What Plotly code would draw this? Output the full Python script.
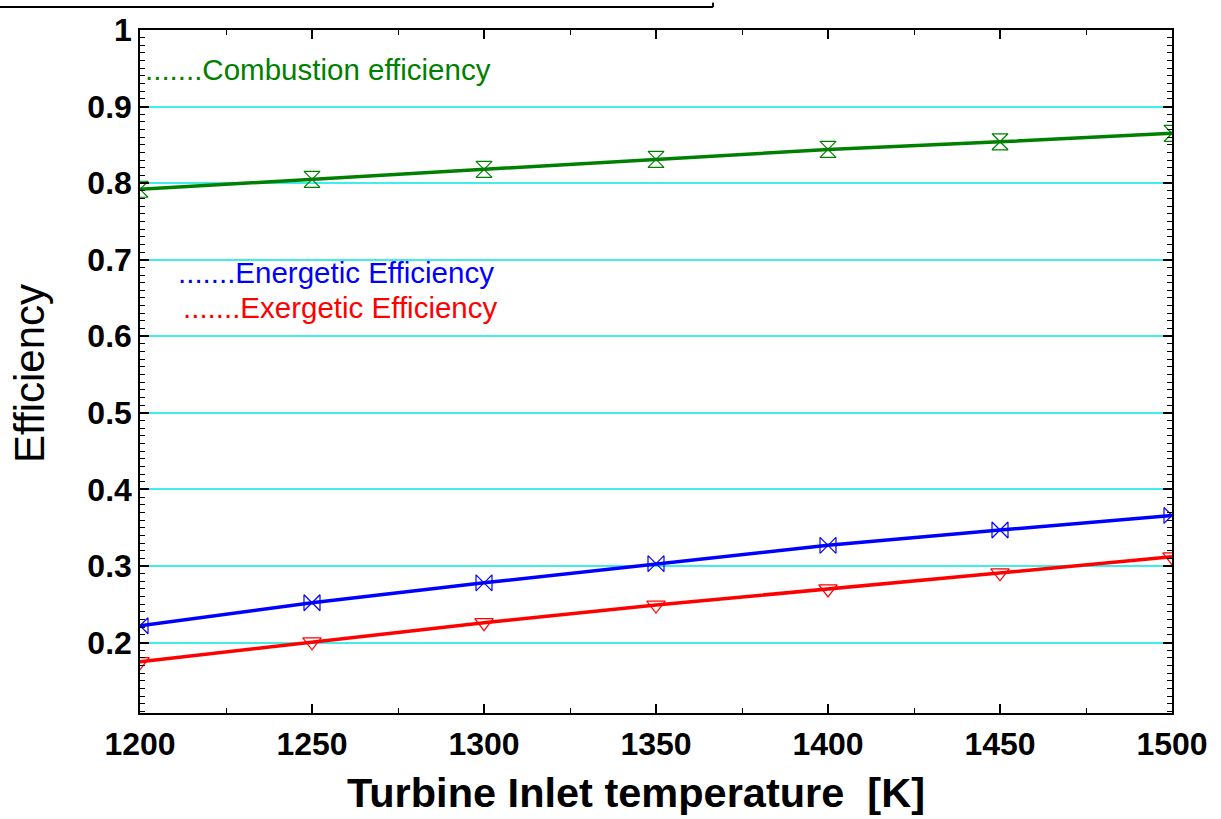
import plotly.graph_objects as go

temps = [1200, 1250, 1300, 1350, 1400, 1450, 1500]
combustion_eff = [0.792, 0.805, 0.818, 0.831, 0.844, 0.854, 0.865]
energetic_eff = [0.222, 0.252, 0.278, 0.303, 0.327, 0.347, 0.366]
exergetic_eff = [0.175, 0.201, 0.226, 0.249, 0.270, 0.291, 0.312]

y_ticks = [0.2, 0.3, 0.4, 0.5, 0.6, 0.7, 0.8, 0.9, 1.0]
y_ticklabels = ["0.2", "0.3", "0.4", "0.5", "0.6", "0.7", "0.8", "0.9", "1"]
x_ticks = [1200, 1250, 1300, 1350, 1400, 1450, 1500]

fig = go.Figure()

series = [
    (combustion_eff, "#008000", "hourglass-open", "Combustion efficiency"),
    (energetic_eff, "#0000FF", "bowtie-open", "Energetic Efficiency"),
    (exergetic_eff, "#FF0000", "triangle-down-open", "Exergetic Efficiency"),
]
for vals, col, sym, name in series:
    fig.add_trace(go.Scatter(
        x=temps, y=vals, mode="lines+markers", name=name,
        line=dict(color=col, width=3.5),
        marker=dict(symbol=sym, size=16, color=col, line=dict(width=1.2, color=col)),
        cliponaxis=True,
    ))

tick_font = dict(family="Liberation Sans, Arial, sans-serif", size=32, color="black", weight="bold")

fig.update_layout(
    width=1221, height=819,
    margin=dict(l=140, r=49, t=26, b=106),
    paper_bgcolor="white", plot_bgcolor="white",
    showlegend=False,
    xaxis=dict(
        range=[1200, 1500], tickvals=x_ticks,
        ticks="inside", ticklen=9, tickwidth=1.5, tickcolor="black",
        minor=dict(dtick=25, tick0=1200, ticks="inside", ticklen=5, tickwidth=1.2, tickcolor="black", showgrid=False),
        showline=True, linecolor="black", linewidth=1.5, mirror="allticks",
        showgrid=False, zeroline=False,
        tickfont=tick_font,
        ticklabelstandoff=2,
    ),
    yaxis=dict(
        range=[0.108, 1.0], tickvals=y_ticks, ticktext=y_ticklabels,
        ticks="inside", ticklen=9, tickwidth=1.5, tickcolor="black",
        minor=dict(dtick=0.01, tick0=0.1, ticks="inside", ticklen=5, tickwidth=1.2, tickcolor="black", showgrid=False),
        showline=True, linecolor="black", linewidth=1.5, mirror="allticks",
        showgrid=True, gridcolor="#40ECEC", gridwidth=1.5, zeroline=False,
        tickfont=tick_font,
        ticklabelstandoff=0,
    ),
)

text_font = "Liberation Sans, Arial, sans-serif"
annots = [
    (1201.0, 0.9490, ".......Combustion efficiency", "#008000"),
    (1210.5, 0.6830, ".......Energetic Efficiency", "#0000FF"),
    (1212.0, 0.6380, ".......Exergetic Efficiency", "#FF0000"),
]
for ax, ay, txt, col in annots:
    fig.add_annotation(x=ax, y=ay, xref="x", yref="y", text=txt, showarrow=False,
                       xanchor="left", yanchor="middle",
                       font=dict(family=text_font, size=29.5, color=col))

fig.add_annotation(x=0.4806, y=-0.1164, xref="paper", yref="paper",
                   text="Turbine Inlet temperature  [K]", showarrow=False,
                   xanchor="center", yanchor="middle",
                   font=dict(family=text_font, size=41.5, color="black", weight="bold"))
fig.add_annotation(x=-0.1076, y=0.4978, xref="paper", yref="paper",
                   text="Efficiency", showarrow=False, textangle=-90,
                   xanchor="center", yanchor="middle",
                   font=dict(family=text_font, size=42, color="black"))

# border fragment at top of the image
fig.add_shape(type="line", xref="paper", yref="paper",
              x0=-0.1357, x1=0.5552, y0=1.0335, y1=1.0335,
              line=dict(color="black", width=2))
fig.add_shape(type="line", xref="paper", yref="paper",
              x0=0.5552, x1=0.5552, y0=1.0335, y1=1.04,
              line=dict(color="black", width=2))

fig.write_html("out.html")
